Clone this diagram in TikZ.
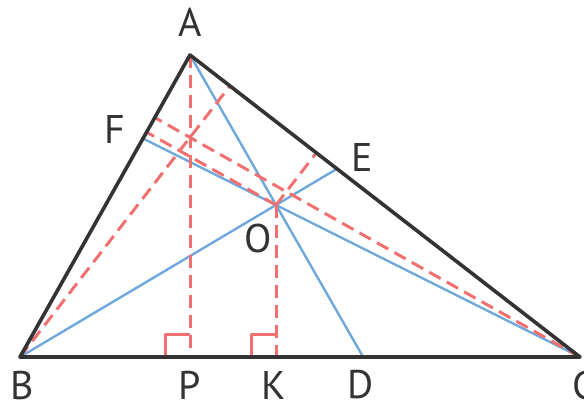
\documentclass[tikz,border=0pt]{standalone}
\usepackage{fontspec}
\setsansfont{PT Sans}
\usetikzlibrary{calc}
\definecolor{cred}{HTML}{F07070}
\definecolor{cblue}{HTML}{6FA8DC}
\definecolor{cdark}{HTML}{333333}
\tikzset{
  every picture/.style={font=\sffamily, line join=round},
  side/.style={draw=cdark, line width=3.6pt},
  cevian/.style={draw=cblue, line width=2.4pt},
  perp/.style={draw=cred, line width=3pt, dash pattern=on 13pt off 7pt},
  rmark/.style={draw=cred, line width=3pt},
  lbl/.style={font=\sffamily\fontsize{40}{40}\selectfont, text=cdark, inner sep=0pt},
}

\begin{document}
\begin{tikzpicture}[x=1pt, y=1pt]
  \useasboundingbox (0,0) rectangle (584,408);
  % vertices and the common point
  \coordinate (A) at (190,353);
  \coordinate (B) at (20,51);
  \coordinate (C) at (580,51);
  \coordinate (O) at (276,203);
  % cevians through O
  \coordinate (D) at (intersection of A--O and B--C);
  \coordinate (E) at (intersection of B--O and A--C);
  \coordinate (F) at (intersection of C--O and A--B);
  % feet of perpendiculars
  \coordinate (P) at ($(B)!(A)!(C)$);
  \coordinate (K) at ($(B)!(O)!(C)$);
  \coordinate (Hb) at ($(A)!(B)!(C)$);
  \coordinate (Hc) at ($(A)!(C)!(B)$);
  \coordinate (M) at ($(A)!(O)!(C)$);
  \coordinate (N) at ($(A)!(O)!(B)$);
  \draw[cevian] (A) -- (D);
  \draw[cevian] (B) -- (E);
  \draw[cevian] (C) -- (F);
  \draw[perp] (A) -- (P);
  \draw[perp] (B) -- (Hb);
  \draw[perp] (C) -- (Hc);
  \draw[perp] (O) -- (K);
  \draw[perp] (O) -- (M);
  \draw[perp] (O) -- (N);
  \draw[rmark] ($(P)+(-25,0)$) -- ++(0,23) -- ++(25,0);
  \draw[rmark] ($(K)+(-25,0)$) -- ++(0,23) -- ++(25,0);
  \draw[side] (A) -- (B) -- (C) -- cycle;
  % labels
  \node[lbl] (lA) at (190,386) {A};
  \node[lbl] (lF) at (115,279) {F};
  \node[lbl] (lE) at (362,251) {E};
  \node[lbl] (lO) at (258,170) {O};
  \node[lbl] (lB) at (22,23) {B};
  \node[lbl] (lP) at (190,23) {P};
  \node[lbl] (lK) at (274,23) {K};
  \node[lbl] (lD) at (361,23) {D};
  \node[lbl] (lC) at (584,23) {C};
\end{tikzpicture}
\end{document}
